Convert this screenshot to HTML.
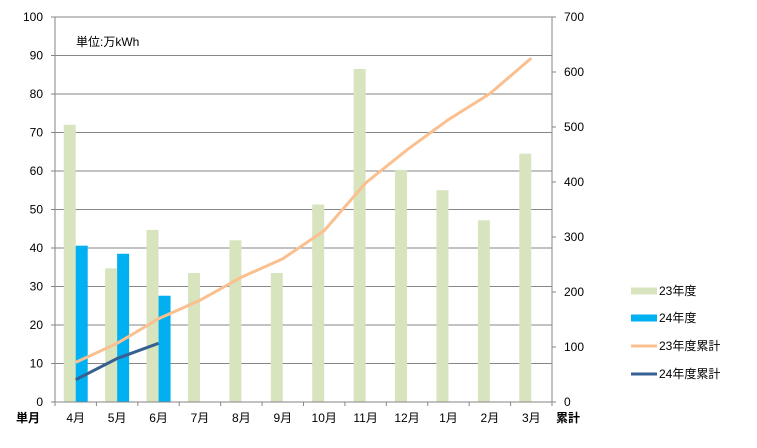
<!DOCTYPE html>
<html><head><meta charset="utf-8"><style>
body{margin:0;background:#fff;}
svg text{font-family:"Liberation Sans","Noto Sans CJK JP",sans-serif;font-size:12px;fill:#000;}
</style></head><body>
<svg id="chart" width="757" height="443" xmlns="http://www.w3.org/2000/svg"></svg>
<script>
const categories=["4月","5月","6月","7月","8月","9月","10月","11月","12月","1月","2月","3月"];
const fy23=[72,34.7,44.7,33.5,42,33.5,51.3,86.5,60.3,55,47.2,64.5];
const fy24=[40.6,38.5,27.6];
const fy23Cum=[72,106.7,151.4,184.9,226.9,260.4,311.7,398.2,458.5,513.5,560.7,625.2];
const fy24Cum=[40.6,79.1,106.7];
const leftTicks=[0,10,20,30,40,50,60,70,80,90,100];
const rightTicks=[0,100,200,300,400,500,600,700];

const svg=document.getElementById('chart');
const NS='http://www.w3.org/2000/svg';
const X0=55,X1=552,Y0=402,Y1=17;
const cw=(X1-X0)/categories.length;
const yL=v=>Y0-(v/100)*(Y0-Y1);
const yR=v=>Y0-(v/700)*(Y0-Y1);
const xC=i=>X0+cw*(i+0.5);
function mk(tag,attrs,parent){const e=document.createElementNS(NS,tag);for(const k in attrs)e.setAttribute(k,attrs[k]);(parent||svg).appendChild(e);return e;}

// grid
leftTicks.forEach(t=>{
  if(t>0){const g=mk('line',{x1:X0,x2:X1,y1:yL(t),y2:yL(t),stroke:'#868686','stroke-width':1});
  
  }
  const tk=mk('line',{x1:X0-4,x2:X0,y1:yL(t),y2:yL(t),stroke:'#868686'});
  const tx=mk('text',{x:X0-12,y:yL(t)+4,'text-anchor':'end'});tx.textContent=t;
  
  
});
rightTicks.forEach(t=>{
  mk('line',{x1:X1,x2:X1+4,y1:yR(t),y2:yR(t),stroke:'#868686'});
  const tx=mk('text',{x:X1+12,y:yR(t)+4});tx.textContent=t;
  
  
});
// bars
fy23.forEach((v,i)=>{
  const r=mk('rect',{x:xC(i)-12,y:yL(v),width:12,height:Y0-yL(v),fill:'#d7e4bd'});
  
  
});
fy24.forEach((v,i)=>{
  const r=mk('rect',{x:xC(i),y:yL(v),width:12,height:Y0-yL(v),fill:'#00b0f0'});
  
  
});
// axes
mk('line',{x1:X0,x2:X0,y1:Y1,y2:Y0,stroke:'#868686'});
mk('line',{x1:X1,x2:X1,y1:Y1,y2:Y0,stroke:'#868686'});
mk('line',{x1:X0,x2:X1,y1:Y0,y2:Y0,stroke:'#868686'});
categories.forEach((c,i)=>{
  mk('line',{x1:X0+cw*i,x2:X0+cw*i,y1:Y0,y2:Y0+4,stroke:'#868686'});
  const tx=mk('text',{x:xC(i),y:422,'text-anchor':'middle'});tx.textContent=c;
  
  
});
mk('line',{x1:X1,x2:X1,y1:Y0,y2:Y0+4,stroke:'#868686'});
// lines
const l1=mk('polyline',{points:fy23Cum.map((v,i)=>xC(i)+','+yR(v)).join(' '),fill:'none',stroke:'#fac090','stroke-width':3});


const l2=mk('polyline',{points:fy24Cum.map((v,i)=>xC(i)+','+yR(v)).join(' '),fill:'none',stroke:'#376092','stroke-width':3});


// labels
let t=mk('text',{x:76,y:46});t.textContent='単位:万kWh';


t=mk('text',{x:16,y:422,'font-weight':'bold','font-size':'13'});t.textContent='単月';


t=mk('text',{x:556,y:422,'font-weight':'bold','font-size':'13'});t.textContent='累計';


// legend
const leg=[['23年度','#d7e4bd',7],['24年度','#00b0f0',7],['23年度累計','#fac090',3],['24年度累計','#376092',3]];
const ly=[291,318,346,374];
leg.forEach((l,i)=>{
  const g=mk('g',{});
  
  
  mk('rect',{x:631,y:ly[i]-l[2]/2,width:26,height:l[2],fill:l[1]},g);
  const tx=mk('text',{x:659,y:ly[i]+4},g);tx.textContent=l[0];
});
</script>
</body></html>
